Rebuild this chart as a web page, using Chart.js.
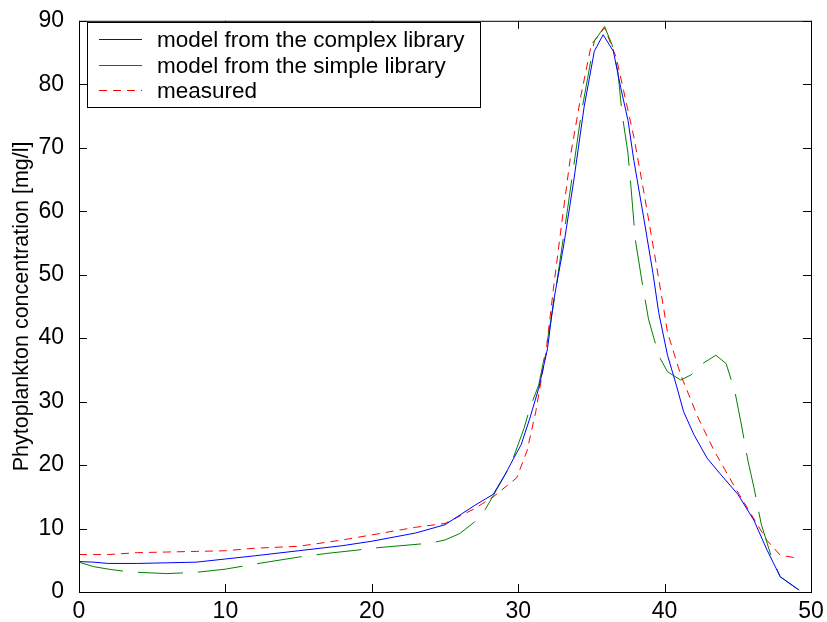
<!DOCTYPE html>
<html>
<head>
  <title>Phytoplankton concentration</title>
  <script src="https://cdn.jsdelivr.net/npm/chart.js"></script>
  <style>
    html, body { margin: 0; padding: 0; background: #ffffff; }
    #wrap { width: 827px; height: 622px; }
  </style>
</head>
<body>
  <div id="wrap"><canvas id="myChart" width="827" height="622"></canvas></div>

  <script>
    // series (x = time, y = mg/l)
    const complexX = [0, 1, 2, 4, 6, 8, 10, 12, 15, 18, 20, 23, 25, 27, 28.3, 29.1, 29.7, 30.2, 30.8, 31.4, 32, 32.4, 33.1, 33.8, 34.5, 35.2, 35.8, 36.5, 37, 37.5, 37.9, 38.6, 39.2, 39.6, 40.2, 40.8, 41.3, 42, 42.9, 43.8, 45, 46.1, 47, 47.9, 49.2];
    const complexY = [4.8, 4.7, 4.5, 4.5, 4.6, 4.7, 5.2, 5.7, 6.5, 7.3, 8.0, 9.3, 10.6, 13.6, 15.4, 18.5, 21.1, 23.2, 27.4, 32.1, 38.3, 45.6, 54.5, 64.9, 76.4, 85.2, 87.8, 85.2, 79.5, 74.3, 68.0, 58.6, 50.3, 44, 37.3, 32.6, 28.4, 24.8, 21.1, 18.6, 15.4, 11.3, 6.6, 2.4, 0.3];

    const simpleX = [0, 1, 2, 3, 4, 6, 8, 10, 12, 15, 17, 19, 20, 22, 24, 25, 26, 27, 27.7, 28.3, 29.5, 30.4, 30.8, 31.4, 31.9, 32.4, 33.2, 34.3, 35.2, 35.9, 36.4, 36.8, 37.1, 37.5, 37.7, 38, 38.5, 38.9, 39.4, 39.7, 40.2, 41.1, 41.8, 42.6, 43.5, 44.2, 44.8, 45.2, 45.7, 46.1, 46.6, 47.3, 47.9, 49.1];
    const simpleY = [4.7, 4.0, 3.6, 3.3, 3.1, 2.9, 3.1, 3.6, 4.4, 5.5, 6.1, 6.6, 6.9, 7.3, 7.7, 8.2, 9.2, 11.0, 12.8, 15.2, 20.1, 25.8, 29.0, 32.6, 38.3, 45.1, 57.6, 75.3, 86.8, 89.1, 86.3, 82.1, 75.3, 69.1, 63.9, 55.5, 48.3, 43.0, 38.9, 36.8, 34.7, 33.4, 34.2, 36.0, 37.3, 36.0, 31.6, 26.9, 20.6, 16.5, 10.7, 5.5, 2.4, 0.4];

    const measuredX = [0, 2, 4, 6, 8, 10, 12, 15, 18, 20, 23, 25, 27, 28.3, 29.9, 30.6, 31.2, 31.9, 32.4, 33, 33.6, 34.3, 35, 35.9, 36.7, 37.2, 37.9, 38.6, 39.3, 39.9, 40.2, 41.1, 42.3, 43.4, 44.8, 45.9, 47, 47.9, 49.2];
    const measuredY = [5.9, 5.9, 6.2, 6.3, 6.4, 6.5, 6.9, 7.2, 8.2, 9.0, 10.2, 10.8, 13.1, 15.0, 18.0, 22.2, 28.4, 37.8, 47.7, 58.6, 69.1, 78.4, 86.3, 88.9, 84.2, 79, 71.7, 62.8, 53.4, 45.2, 40.9, 34.2, 27.4, 22.2, 16.5, 12.3, 8.1, 5.8, 5.3];

    const seriesLabels = ['model from the complex library', 'model from the simple library', 'measured'];
    const seriesColors = ['#0000ff', '#008000', '#ff0000'];
    const xTicks = [0, 10, 20, 30, 40, 50];
    const yTicks = [0, 10, 20, 30, 40, 50, 60, 70, 80, 90];

    const FONT = '"Liberation Sans", Arial, sans-serif';

    function toPoints(xs, ys) {
      return xs.map((x, i) => ({ x: x, y: ys[i] }));
    }

    // box round the plot with inward ticks on all four sides, plus the legend
    const boxPlugin = {
      id: 'box',
      afterDraw(chart) {
        const ctx = chart.ctx;
        const a = chart.chartArea;
        const xs = chart.scales.x, ys = chart.scales.y;
        const len = 8;
        ctx.save();
        ctx.strokeStyle = '#000';
        ctx.lineWidth = 1;
        ctx.setLineDash([]);
        ctx.strokeRect(a.left + 0.5, a.top + 0.5, a.right - a.left, a.bottom - a.top);
        ctx.beginPath();
        xTicks.forEach(v => {
          const p = Math.round(xs.getPixelForValue(v)) + 0.5;
          ctx.moveTo(p, a.bottom); ctx.lineTo(p, a.bottom - len);
          ctx.moveTo(p, a.top); ctx.lineTo(p, a.top + len);
        });
        yTicks.forEach(v => {
          const p = Math.round(ys.getPixelForValue(v)) + 0.5;
          ctx.moveTo(a.left, p); ctx.lineTo(a.left + len, p);
          ctx.moveTo(a.right, p); ctx.lineTo(a.right - len, p);
        });
        ctx.stroke();

        // legend
        const lx = 87.5, ly = 22.5, lw = 393, lh = 85;
        ctx.fillStyle = '#fff';
        ctx.fillRect(lx, ly, lw, lh);
        ctx.strokeRect(lx, ly, lw, lh);
        ctx.font = '22.5px ' + FONT;
        ctx.textBaseline = 'middle';
        ctx.textAlign = 'left';
        seriesLabels.forEach((label, i) => {
          const yy = Math.round(39 + i * 25.5) + 0.5;
          ctx.strokeStyle = seriesColors[i];
          ctx.setLineDash(i === 2 ? [8, 6] : []);
          ctx.beginPath();
          ctx.moveTo(99, yy); ctx.lineTo(142, yy);
          ctx.stroke();
          ctx.fillStyle = '#000';
          ctx.fillText(label, 157, yy + 1);
        });
        ctx.restore();
      }
    };

    const ctx = document.getElementById('myChart').getContext('2d');
    const myChart = new Chart(ctx, {
      type: 'line',
      data: {
        datasets: [
          {
            label: seriesLabels[0],
            data: toPoints(complexX, complexY),
            borderColor: seriesColors[0],
            borderWidth: 1,
            pointRadius: 0,
            tension: 0
          },
          {
            label: seriesLabels[1],
            data: toPoints(simpleX, simpleY),
            borderColor: seriesColors[1],
            borderWidth: 1,
            borderDash: [45, 15],
            pointRadius: 0,
            tension: 0
          },
          {
            label: seriesLabels[2],
            data: toPoints(measuredX, measuredY),
            borderColor: seriesColors[2],
            borderWidth: 1,
            borderDash: [8, 6],
            pointRadius: 0,
            tension: 0
          }
        ]
      },
      options: {
        responsive: false,
        animation: false,
        events: [],
        layout: { padding: { top: 16, right: 16, left: 0, bottom: 0 } },
        plugins: {
          legend: { display: false },
          tooltip: { enabled: false }
        },
        scales: {
          x: {
            type: 'linear',
            min: 0,
            max: 50,
            afterBuildTicks: s => { s.ticks = xTicks.map(v => ({ value: v })); },
            afterFit: s => { s.height = 30; },
            grid: { display: false },
            border: { display: false },
            ticks: {
              color: '#000',
              font: { family: FONT, size: 23 },
              padding: -2,
              maxRotation: 0,
              autoSkip: false
            }
          },
          y: {
            type: 'linear',
            min: 0,
            max: 90,
            afterBuildTicks: s => { s.ticks = yTicks.map(v => ({ value: v })); },
            afterFit: s => { s.width = 79; },
            grid: { display: false },
            border: { display: false },
            title: {
              display: true,
              text: 'Phytoplankton concentration [mg/l]',
              color: '#000',
              font: { family: FONT, size: 21.5 },
              padding: { top: 9, bottom: 0 }
            },
            ticks: {
              color: '#000',
              font: { family: FONT, size: 23 },
              padding: 7,
              autoSkip: false
            }
          }
        }
      },
      plugins: [boxPlugin]
    });
  </script>
</body>
</html>
